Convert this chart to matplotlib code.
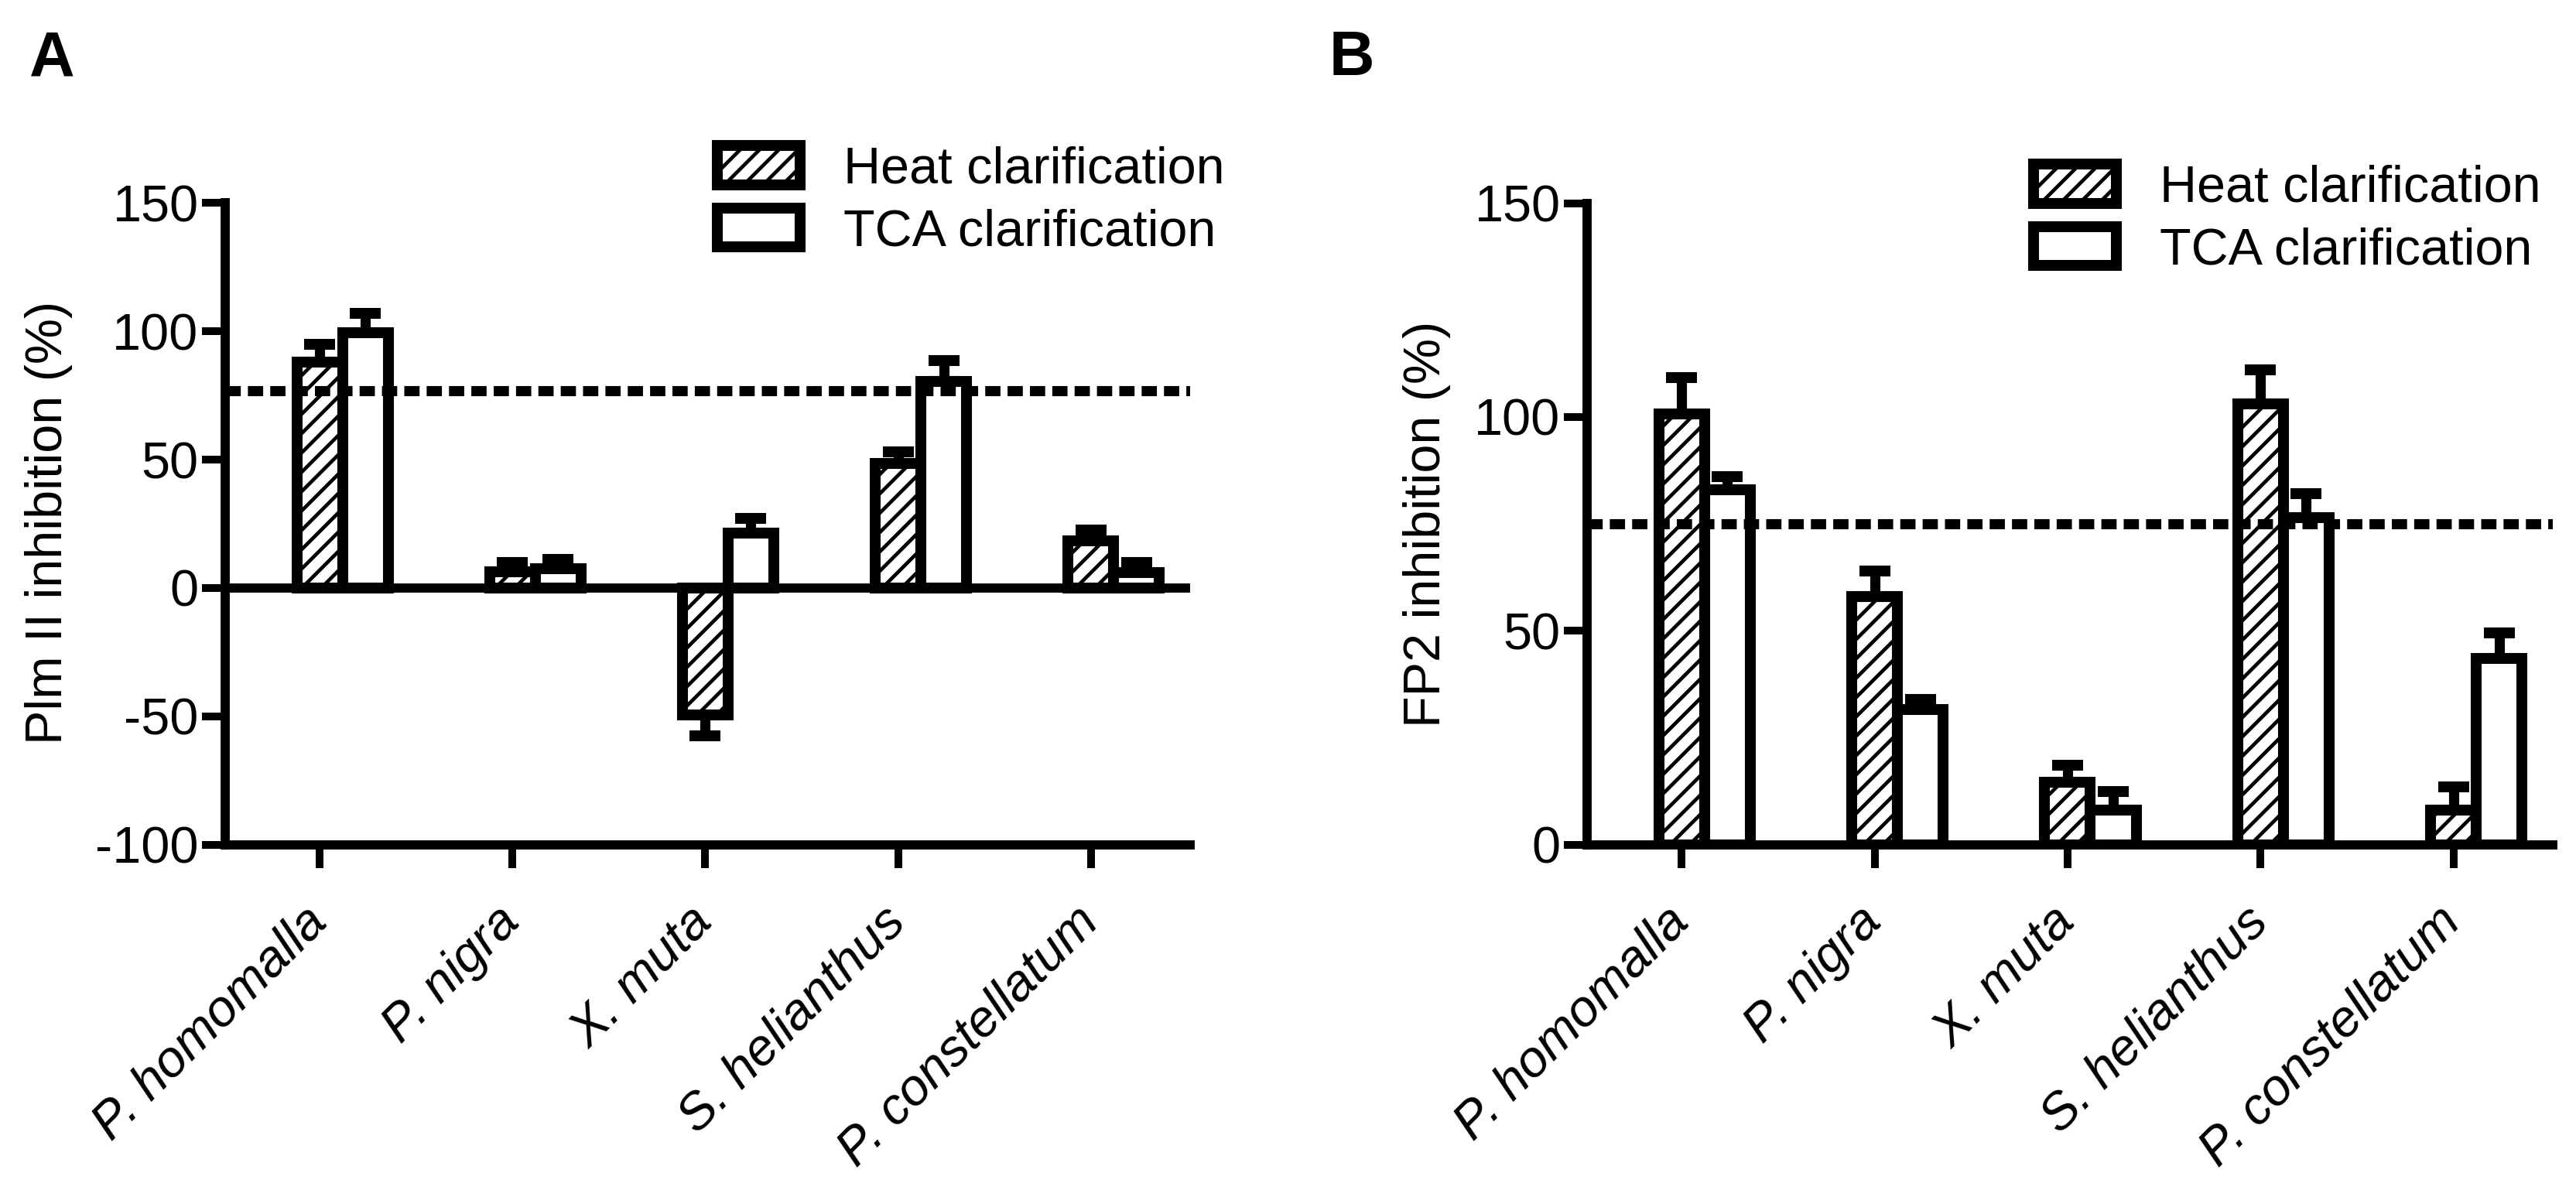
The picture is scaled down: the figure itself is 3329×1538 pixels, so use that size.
import numpy as np
import matplotlib
matplotlib.use("Agg")
import matplotlib.pyplot as plt
from matplotlib.transforms import ScaledTranslation

# 数据
species = ['P. homomalla', 'P. nigra', 'X. muta', 'S. helianthus', 'P. constellatum']
series_names = ['Heat clarification', 'TCA clarification']

plm_heat = [88, 6.3, -49.5, 48.5, 18.5]
plm_heat_err = [7, 3.5, 8, 4.5, 4]
plm_tca = [99.5, 7.5, 21.5, 80.5, 6]
plm_tca_err = [7.5, 3.5, 5.5, 8, 4]
plm_cutoff = 77
plm_yticks = [-100, -50, 0, 50, 100, 150]

fp2_heat = [100.7, 58, 14.5, 103, 8]
fp2_heat_err = [8.5, 6, 4, 8, 5.5]
fp2_tca = [83, 31.5, 8, 76.5, 43.5]
fp2_tca_err = [3, 2.5, 4.5, 5.5, 6]
fp2_cutoff = 75
fp2_yticks = [0, 50, 100, 150]

DPI = 225
W, H = 3329, 1538
FS = 21.3

plt.rcParams['font.family'] = ['Liberation Sans', 'DejaVu Sans']
plt.rcParams['axes.unicode_minus'] = False
plt.rcParams['hatch.linewidth'] = 1.5
plt.rcParams['hatch.color'] = 'black'

fig = plt.figure(figsize=(W / DPI, H / DPI), dpi=DPI)
fig.patch.set_facecolor('white')
ax1 = fig.add_axes([291 / W, 1 - 1091.6 / H, (1538 - 291) / W, (1091.6 - 262.5) / H])
ax2 = fig.add_axes([2051 / W, 1 - 1091.6 / H, (3299 - 2051) / W, (1091.6 - 262.5) / H])


def one_sided(vals, errs):
    # 误差线只画一侧（正值向上，负值向下）
    lo = [e if v < 0 else 0 for v, e in zip(vals, errs)]
    hi = [e if v >= 0 else 0 for v, e in zip(vals, errs)]
    return [lo, hi]


def panel(ax, heat, heat_err, tca, tca_err, cutoff, yticks, legend_xy):
    x = np.arange(len(species))
    w = 0.237
    ax.bar(x, heat, w, facecolor='white', edgecolor='black', hatch='///',
           linewidth=4.5, label=series_names[0], zorder=2)
    ax.bar(x + w, tca, w, facecolor='white', edgecolor='black',
           linewidth=4.5, label=series_names[1], zorder=2)
    for xs, v, e in ((x, heat, heat_err), (x + w, tca, tca_err)):
        ax.errorbar(xs, v, yerr=one_sided(v, e), fmt='none', ecolor='black',
                    elinewidth=4.2, capsize=6.5, capthick=4.5, zorder=1)

    # 阈值虚线
    ax.axhline(cutoff, color='black', linewidth=4.2, linestyle=(0, (1.5, 0.7)), zorder=3)
    if yticks[0] < 0:
        ax.axhline(0, color='black', linewidth=3.8, zorder=2.5)

    ax.set_xlim(-0.49, 4.515)
    ax.set_ylim(yticks[0], yticks[-1])
    ax.set_yticks(yticks)

    for s in ['top', 'right']:
        ax.spines[s].set_visible(False)
    for s in ['left', 'bottom']:
        ax.spines[s].set_linewidth(3.8)
    ax.tick_params(axis='both', width=3.2, length=9.5, labelsize=FS, direction='out')
    ax.tick_params(axis='y', pad=1.5)
    ax.tick_params(axis='x', pad=8)

    ax.set_xticks(x, species, rotation=45, ha='right', va='top',
                  rotation_mode='anchor', fontstyle='italic')
    shift = ScaledTranslation(-22 / DPI, -14 / DPI, fig.dpi_scale_trans)
    for lab in ax.get_xticklabels():
        lab.set_transform(lab.get_transform() + shift)

    ax.legend(loc='upper left', bbox_to_anchor=(legend_xy[0] / W, 1 - legend_xy[1] / H),
              bbox_transform=fig.transFigure, frameon=False, borderpad=0,
              borderaxespad=0, handlelength=1.6, handleheight=0.8,
              handletextpad=0.85, labelspacing=0.27, fontsize=FS)


panel(ax1, plm_heat, plm_heat_err, plm_tca, plm_tca_err, plm_cutoff, plm_yticks, (927, 188))
panel(ax2, fp2_heat, fp2_heat_err, fp2_tca, fp2_tca_err, fp2_cutoff, fp2_yticks, (2628, 212))

# 纵轴标题
fig.text(63 / W, 1 - 675 / H, 'Plm II inhibition (%)', rotation=90,
         ha='center', va='center', fontsize=FS)
fig.text(1844 / W, 1 - 677 / H, 'FP2 inhibition (%)', rotation=90,
         ha='center', va='center', fontsize=FS)

# 子图编号
fig.text(38 / W, 1 - 97 / H, 'A', ha='left', va='baseline', fontsize=26, fontweight='bold')
fig.text(1718 / W, 1 - 97 / H, 'B', ha='left', va='baseline', fontsize=26, fontweight='bold')

fig.savefig('out.png', dpi=DPI, facecolor='white')
